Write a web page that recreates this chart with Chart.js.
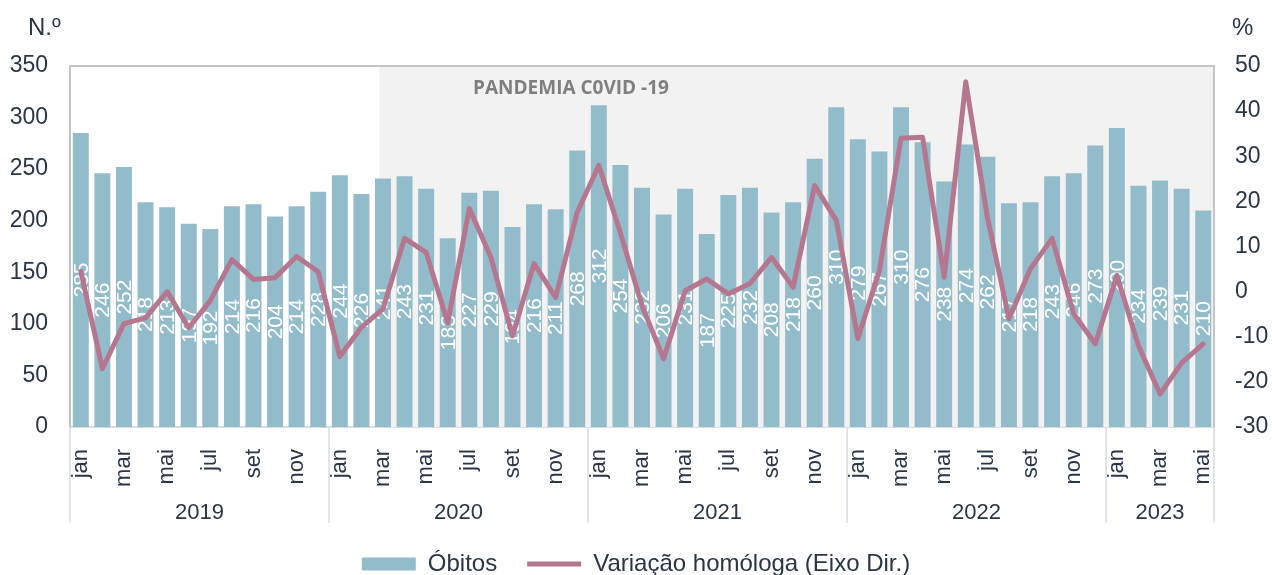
<!DOCTYPE html>
<html>
<head>
<meta charset="utf-8">
<script src="https://cdn.jsdelivr.net/npm/chart.js@4.4.1/dist/chart.umd.min.js"></script>
<style>
   html, body { margin: 0; padding: 0; background: #fff; }
   #box { width: 1272px; height: 575px; }
</style>
</head>
<body>
<div id="box"><canvas id="obitos-chart"></canvas></div>
<script>
var anos = ['2019', '2020', '2021', '2022', '2023'];
var meses = ['jan', 'fev', 'mar', 'abr', 'mai', 'jun', 'jul', 'ago', 'set', 'out', 'nov', 'dez'];
var mesesPorAno = [12, 12, 12, 12, 5];

var obitos = [
   285, 246, 252, 218, 213, 197, 192, 214, 216, 204, 214, 228,
   244, 226, 241, 243, 231, 183, 227, 229, 194, 216, 211, 268,
   312, 254, 232, 206, 231, 187, 225, 232, 208, 218, 260, 310,
   279, 267, 310, 276, 238, 274, 262, 217, 218, 243, 246, 273,
   290, 234, 239, 231, 210
];
var variacao = [
   4.5, -17.1, -7.1, -5.8, 0, -8, -2, 7.1, 2.7, 3.1, 7.8, 4.4,
   -14.4, -7.9, -3.8, 11.8, 8.7, -6.9, 18.4, 7.6, -9.8, 6.2, -1.3, 17.6,
   28, 13, -3.1, -14.9, 0.2, 2.8, -0.5, 1.8, 7.6, 1, 23.5, 15.8,
   -10.4, 4.7, 34, 34.2, 3.2, 46.5, 16.5, -6, 5.1, 11.8, -4.9, -11.6,
   3.6, -12, -22.7, -15.8, -11.6
];
var inicioPandemia = 14; // mar 2020

var fonte = "'Liberation Sans', Arial, sans-serif";
var corTexto = '#2a3547';

var each = function (arr, fn) { for (var i = 0; i < arr.length; i++) fn(i, arr[i]); };

var labels = [];
each(anos, function (a, ano) {
   for (var m = 0; m < mesesPorAno[a]; m++) labels.push(meses[m]);
});

var extras = {
   id: 'extras',
   beforeDatasetsDraw: function (chart) {
      var ctx = chart.ctx, area = chart.chartArea, x = chart.scales.x;
      var step = x.getPixelForValue(1) - x.getPixelForValue(0);
      var x0 = x.getPixelForValue(inicioPandemia) - step * 0.17;
      ctx.save();
      ctx.fillStyle = '#f2f2f2';
      ctx.fillRect(x0, area.top, area.right - x0, area.bottom - area.top);
      ctx.strokeStyle = '#c4c4c4';
      ctx.lineWidth = 2;
      ctx.beginPath();
      ctx.moveTo(area.left, area.bottom);
      ctx.lineTo(area.left, area.top);
      ctx.lineTo(area.right, area.top);
      ctx.lineTo(area.right, area.bottom);
      ctx.stroke();
      ctx.fillStyle = '#7f7f7f';
      ctx.font = "bold 19px 'Open Sans', Arial, sans-serif";
      ctx.textAlign = 'center';
      ctx.textBaseline = 'middle';
      ctx.fillText('PANDEMIA C0VID -19', 571, area.top + 23);
      ctx.restore();
   },
   afterDatasetDraw: function (chart, args) {
      if (args.index !== 0) return;
      var ctx = chart.ctx;
      ctx.save();
      ctx.fillStyle = '#ffffff';
      ctx.font = '21px ' + fonte;
      ctx.textAlign = 'center';
      ctx.textBaseline = 'middle';
      each(args.meta.data, function (i, bar) {
         ctx.save();
         ctx.translate(bar.x, (bar.y + bar.base) / 2);
         ctx.rotate(-Math.PI / 2);
         ctx.fillText(String(obitos[i]), 0, 1);
         ctx.restore();
      });
      ctx.restore();
   },
   afterDraw: function (chart) {
      var ctx = chart.ctx, area = chart.chartArea, x = chart.scales.x;
      var step = x.getPixelForValue(1) - x.getPixelForValue(0);
      ctx.save();
      ctx.strokeStyle = '#d6dce6';
      ctx.lineWidth = 1.5;
      ctx.fillStyle = corTexto;
      ctx.font = '22px ' + fonte;
      ctx.textAlign = 'center';
      ctx.textBaseline = 'middle';
      var idx = 0;
      each(anos, function (a, ano) {
         var left = x.getPixelForValue(idx) - step / 2;
         var right = x.getPixelForValue(idx + mesesPorAno[a] - 1) + step / 2;
         ctx.beginPath();
         ctx.moveTo(left, area.bottom);
         ctx.lineTo(left, area.bottom + 96);
         if (a === anos.length - 1) {
            ctx.moveTo(right, area.bottom);
            ctx.lineTo(right, area.bottom + 96);
         }
         ctx.stroke();
         ctx.fillText(ano, (left + right) / 2, area.bottom + 86);
         idx += mesesPorAno[a];
      });
      ctx.font = '24px ' + fonte;
      ctx.textAlign = 'left';
      ctx.fillText('N.º', 28, 28);
      ctx.fillText('%', 1232, 28);
      ctx.restore();
   }
};

var config = {
   type: 'bar',
   data: {
      labels: labels,
      datasets: [{
         type: 'bar',
         label: 'Óbitos',
         data: obitos,
         yAxisID: 'y',
         backgroundColor: '#93bccb',
         borderWidth: 0,
         pointStyle: 'rect',
         barPercentage: 0.74,
         categoryPercentage: 1,
         order: 1
      }, {
         type: 'line',
         label: 'Variação homóloga (Eixo Dir.)',
         data: variacao,
         yAxisID: 'y1',
         borderColor: '#b5778f',
         backgroundColor: '#b5778f',
         borderWidth: 5,
         borderJoinStyle: 'round',
         borderCapStyle: 'round',
         pointRadius: 0,
         pointStyle: 'line',
         tension: 0,
         order: 0
      }]
   },
   options: {
      responsive: true,
      maintainAspectRatio: false,
      animation: false,
      layout: { padding: { top: 66, bottom: -11 } },
      plugins: {
         tooltip: { enabled: false },
         legend: {
            display: true,
            position: 'bottom',
            labels: {
               usePointStyle: true,
               pointStyleWidth: 54,
               boxHeight: 13,
               padding: 30,
               color: corTexto,
               font: { size: 24, family: fonte },
               sort: function (a, b) { return a.datasetIndex - b.datasetIndex; }
            }
         }
      },
      scales: {
         x: {
            grid: { display: false },
            border: { display: true, color: '#d6dce6', width: 2 },
            afterFit: function (scale) { scale.height = 95; },
            ticks: {
               autoSkip: false,
               minRotation: 90,
               maxRotation: 90,
               padding: 14,
               color: corTexto,
               font: { size: 22, family: fonte },
               callback: function (v, i) { return i % 2 === 0 ? labels[i] : ''; }
            }
         },
         y: {
            position: 'left',
            min: 0,
            max: 350,
            grid: { display: false },
            border: { display: false },
            afterFit: function (scale) { scale.width = 70; },
            ticks: {
               stepSize: 50,
               padding: 14,
               color: corTexto,
               font: { size: 23, family: fonte }
            }
         },
         y1: {
            position: 'right',
            min: -30,
            max: 50,
            grid: { display: false },
            border: { display: false },
            afterFit: function (scale) { scale.width = 58; },
            ticks: {
               stepSize: 10,
               padding: 13,
               color: corTexto,
               font: { size: 23, family: fonte }
            }
         }
      }
   },
   plugins: [extras]
};

var ctx = document.getElementById('obitos-chart').getContext('2d');
var chart = new Chart(ctx, config);
</script>
</body>
</html>
